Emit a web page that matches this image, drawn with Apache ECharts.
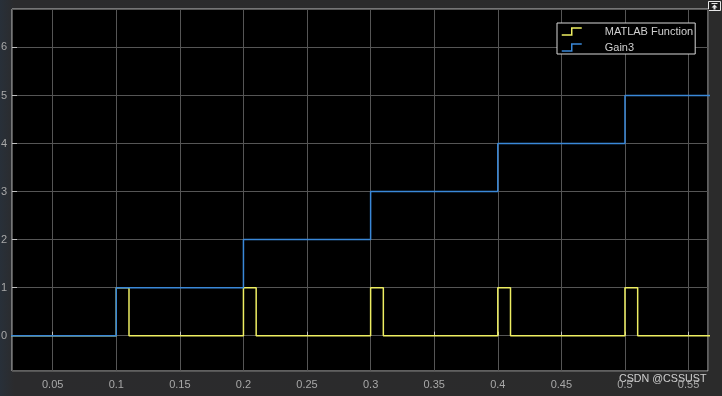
<!DOCTYPE html>
<html>
<head>
<meta charset="utf-8">
<script src="https://cdn.jsdelivr.net/npm/echarts@6/dist/echarts.min.js"></script>
<style>html,body{margin:0;padding:0;background:#2b2b2b;}#c{width:722px;height:396px;}</style>
</head>
<body>
<div id="c"></div>
<script>
// Data (time in s, values held until the next time point)
const seriesNames = ['MATLAB Function', 'Gain3'];
const matlabTimes  = [0, 0.01, 0.1, 0.11, 0.2, 0.21, 0.3, 0.31, 0.4, 0.41, 0.5, 0.51, 0.6];
const matlabValues = [1, 0,    1,   0,    1,   0,    1,   0,    1,   0,    1,   0,    0];
const gainTimes  = [0, 0.1, 0.2, 0.3, 0.4, 0.5, 0.6];
const gainValues = [0, 1,   2,   3,   4,   5,   5];
const xRange = [0.018, 0.5653];
const yRange = [-0.735, 6.8];

const zip = (t, v) => t.map((x, i) => [x, v[i]]);
const chart = echarts.init(document.getElementById('c'));
const yellow = '#eeee62', blue = '#3a88d8';
const stepIcon = 'path://M0,7 L10,7 L10,0 L20,0';

chart.setOption({
  backgroundColor: new echarts.graphic.LinearGradient(0, 0, 1, 0, [
    {offset: 0, color: '#283039'}, {offset: 0.02, color: '#2b2b2d'}, {offset: 1, color: '#2b2b2b'}
  ]),
  animation: false,
  grid: {left: 12, right: 14, top: 9, bottom: 25, show: true, backgroundColor: '#000',
         borderColor: '#c0c0c0', borderWidth: 1, containLabel: false, outerBoundsMode: 'none'},
  xAxis: {
    type: 'value', min: xRange[0], max: xRange[1], splitNumber: 11,
    axisLine: {show: false},
    axisTick: {show: true, inside: true, length: 4, lineStyle: {color: '#c0c0c0'}},
    axisLabel: {color: '#a8a8a8', fontSize: 11, fontFamily: 'Liberation Sans, Arial', margin: 8,
                showMinLabel: false, showMaxLabel: false},
    splitLine: {show: true, lineStyle: {color: '#555', width: 1}}
  },
  yAxis: {
    type: 'value', min: yRange[0], max: yRange[1], splitNumber: 8,
    axisLine: {show: false},
    axisTick: {show: true, inside: true, length: 5, lineStyle: {color: '#c0c0c0'}},
    axisLabel: {color: '#a8a8a8', fontSize: 11, fontFamily: 'Liberation Sans, Arial', margin: 5,
                showMinLabel: false, showMaxLabel: false},
    splitLine: {show: true, lineStyle: {color: '#555', width: 1}}
  },
  legend: {
    orient: 'vertical', left: 557, top: 23,
    padding: [3, 2, 1, 4], itemGap: 5, itemWidth: 20, itemHeight: 7,
    backgroundColor: '#000', borderColor: '#d8d8d8', borderWidth: 1,
    icon: stepIcon,
    data: [
      {name: seriesNames[0], itemStyle: {color: 'rgba(0,0,0,0)', borderColor: yellow, borderWidth: 1.5}},
      {name: seriesNames[1], itemStyle: {color: 'rgba(0,0,0,0)', borderColor: blue, borderWidth: 1.5}}
    ],
    formatter: n => '{a|' + n + '}',
    textStyle: {color: '#d0d0d0', fontSize: 11, fontFamily: 'Liberation Sans, Arial',
                rich: {a: {color: '#d0d0d0', fontSize: 11, fontFamily: 'Liberation Sans, Arial', padding: [0, 0, 0, 18]}}}
  },
  series: [
    {name: seriesNames[0], type: 'line', step: 'end', showSymbol: false, symbol: 'none',
     data: zip(matlabTimes, matlabValues), lineStyle: {color: yellow, width: 1.5}, itemStyle: {color: yellow}},
    {name: seriesNames[1], type: 'line', step: 'end', showSymbol: false, symbol: 'none',
     data: zip(gainTimes, gainValues), lineStyle: {color: blue, width: 1.5}, itemStyle: {color: blue}}
  ],
  graphic: [
    {type: 'group', left: 708, top: 1, children: [
      {type: 'rect', shape: {x: 0, y: 0, width: 12, height: 9}, style: {fill: '#1e1e1e', stroke: '#e8e8e8', lineWidth: 1}},
      {type: 'polyline', shape: {points: [[3, 2], [9, 2]]}, style: {stroke: '#e8e8e8', lineWidth: 1}},
      {type: 'polygon', shape: {points: [[6, 3], [3, 6], [5, 6], [5, 8], [7, 8], [7, 6], [9, 6]]}, style: {fill: '#e8e8e8'}}
    ]},
    {type: 'text', left: 619, top: 374, style: {text: 'CSDN @CSSUST', fill: 'rgba(235,235,235,0.85)',
      font: '10.7px "Liberation Sans", Arial'}}
  ]
});
</script>
</body>
</html>
